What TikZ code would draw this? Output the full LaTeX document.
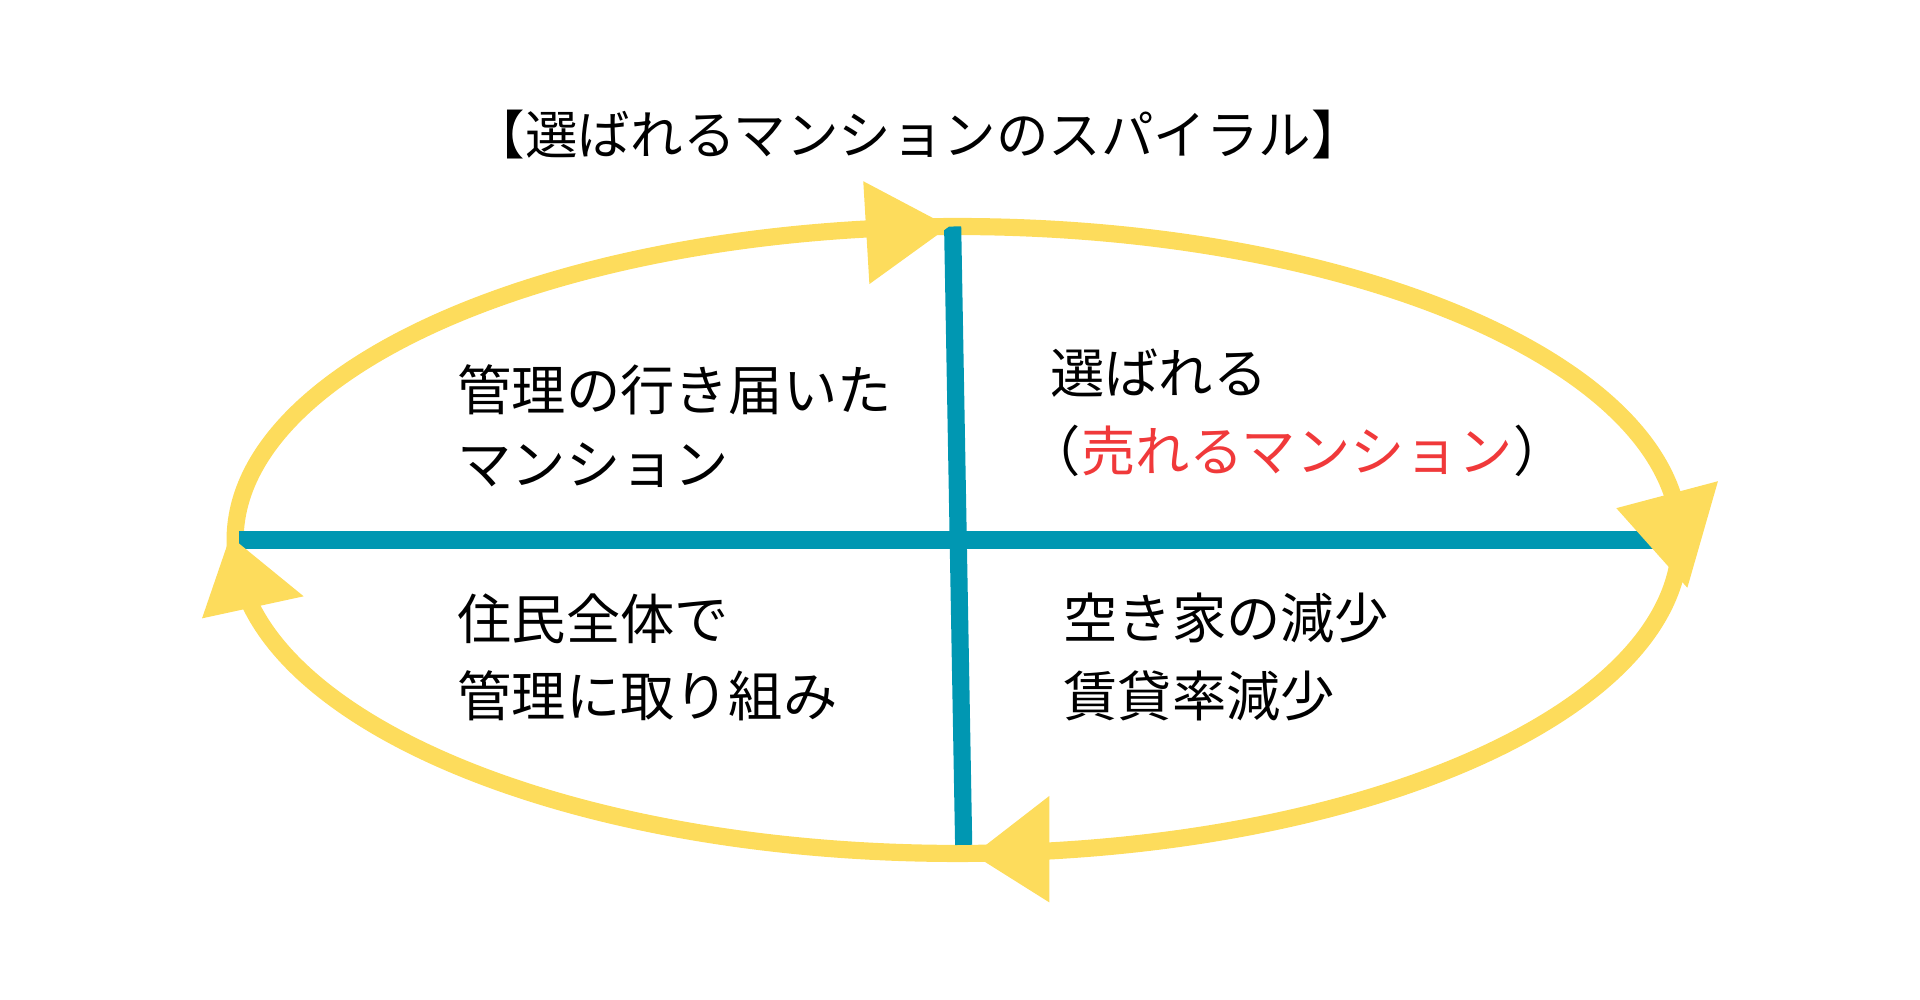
\documentclass[tikz,border=0pt]{standalone}
\usepackage{fontspec}
\setmainfont{Noto Sans CJK JP}
\begin{document}
\begin{tikzpicture}[x=0.01cm,y=-0.01cm,
  yel/.style={fill=ylw,draw=none},
  txt/.style={anchor=west,font=\fontsize{12.6pt}{15pt}\selectfont,inner sep=0pt}]
\definecolor{ylw}{HTML}{FDDC5C}
\definecolor{blu}{HTML}{0097B2}
\definecolor{rd}{HTML}{F0393A}
\useasboundingbox (0,0) rectangle (1568,816);
\coordinate (c) at (782,441);
\draw[ylw,line width=0.14cm] (c) ellipse [x radius=590,y radius=256];
\draw[blu,line width=0.14cm] (195,441) -- (1362,441);
\draw[blu,line width=0.14cm] (778,185) -- (787,690);
\fill[ylw] (705,148) -- (775,185) -- (710,232) -- cycle;
\fill[ylw] (1320,415) -- (1403,393) -- (1378,480) -- cycle;
\fill[ylw] (857,650) -- (857,737) -- (795,698) -- cycle;
\fill[ylw] (165,505) -- (188,438) -- (248,487) -- cycle;
\node[font=\fontsize{12.2pt}{15pt}\selectfont] (t) at (750,110) {【選ばれるマンションのスパイラル】};
\node[txt] (a1) at (373,318) {管理の行き届いた};
\node[txt] (a2) at (373,380) {マンション};
\node[txt] (b1) at (857,305) {選ばれる};
\node[txt] (b2) at (838,368) {（\textcolor{rd}{売れるマンション}）};
\node[txt] (c1) at (373,505) {住民全体で};
\node[txt] (c2) at (373,568) {管理に取り組み};
\node[txt] (d1) at (868,505) {空き家の減少};
\node[txt] (d2) at (868,568) {賃貸率減少};
\end{tikzpicture}
\end{document}
